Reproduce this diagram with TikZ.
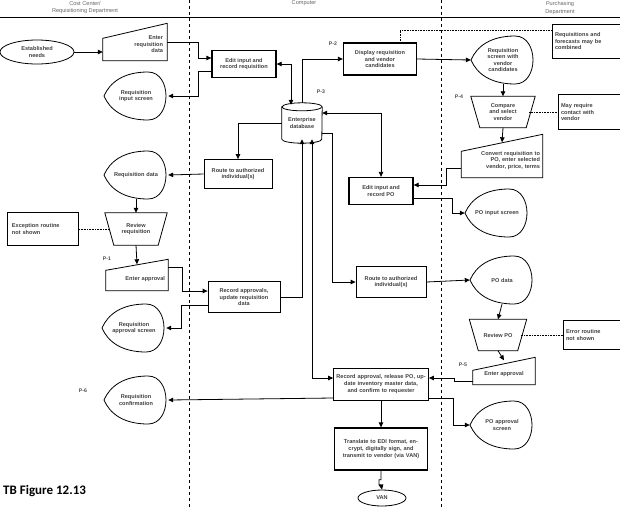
\documentclass[tikz,border=0pt]{standalone}
\usepackage{fontspec}
\setmainfont{Liberation Sans}
\newfontfamily\capfont{Carlito}
\usetikzlibrary{arrows.meta,positioning,calc,shapes.geometric}

\tikzset{
  txt/.style={font=\bfseries\fontsize{5.6}{6.6}\selectfont, text=black!75, inner sep=1pt, align=center},
  box/.style={txt, draw=black, line width=0.8pt},
  tbox/.style={box, line width=1.3pt},
  blank/.style={txt, draw=none},
  shp/.style={draw=black, line width=0.8pt},
  arr/.style={line width=0.8pt, -{Triangle[length=5pt,width=4.5pt]}},
  darr/.style={line width=0.8pt, {Triangle[length=5pt,width=4.5pt]}-{Triangle[length=5pt,width=4.5pt]}},
  dots/.style={densely dotted, line width=0.6pt},
  lane/.style={dashed, line width=0.8pt},
  head/.style={font=\fontsize{5.6}{6.6}\selectfont, text=black!60, inner sep=0pt},
  plab/.style={font=\bfseries\fontsize{5.2}{6}\selectfont, text=black!70, inner sep=0pt}
}

% display symbol
\newcommand\dispnode[3]{%
  \node[blank, minimum width=64pt, minimum height=48pt, text width=50pt] (#1) at (#2) {#3};
  \draw[shp, shift={(#1.center)}] (-32,0) .. controls (-26,-14) and (-12,-24) .. (12,-24)
    .. controls (36,-24) and (36,24) .. (12,24) .. controls (-12,24) and (-26,14) .. (-32,0) -- cycle;
}
% manual input symbol
\newcommand\inpnode[5]{%
  \node[blank, #3] (#1) at (#2) {#5};
  \draw[shp] (#1.south west) -- (#1.south east) -- (#1.north east) -- ([yshift=-#4]#1.north west) -- cycle;
}
% manual operation symbol
\newcommand\opnode[4]{%
  \node[blank, #3] (#1) at (#2) {#4};
  \draw[shp] (#1.north west) -- (#1.north east) -- ([xshift=-9pt]#1.south east) -- ([xshift=9pt]#1.south west) -- cycle;
}

\begin{document}
\begin{tikzpicture}[x=1pt,y=-1pt]
\useasboundingbox (0,0) rectangle (620,509);

% lanes
\draw[line width=0.7pt] (0,17) -- (620,17);
\draw[lane] (189,0) -- (189,509);
\draw[lane] (441,0) -- (441,509);
\node[head] (hcost) at (85,3) {Cost Center/};
\node[head] (hreq) at (85,11) {Requisitioning Department};
\node[head] (hcomp) at (304,3) {Computer};
\node[head] (hpur1) at (560,4) {Purchasing};
\node[head] (hpur2) at (560,12) {Department};

% cost center
\node[box, ellipse, minimum width=74pt, minimum height=24pt] (need) at (37,52) {Established\\needs};
\inpnode{enreq}{135,42}{minimum width=64pt, minimum height=37pt, align=right, text width=56pt}{15pt}{\\[2pt]Enter\\requisition\\data}
\dispnode{reqin}{136,96}{Requisition\\input screen}
\dispnode{reqd}{136,175}{Requisition data}
\opnode{revr}{136,229}{minimum width=62pt, minimum height=32pt}{Review\\requisition}
\node[box, minimum width=71pt, minimum height=33pt, align=left, text width=62pt] (exc) at (43,229) {Exception routine\\not shown};
\inpnode{enap1}{137,275}{minimum width=62pt, minimum height=31pt, align=right, text width=56pt}{11pt}{\\[6pt]Enter approval}
\dispnode{reqapp}{134,328}{Requisition\\approval screen}
\dispnode{reqconf}{136,400}{Requisition\\confirmation}

% computer
\node[tbox, minimum width=64pt, minimum height=27pt] (edreq) at (244,64) {Edit input and\\record requisition};
\node[blank, minimum width=40pt, minimum height=40pt] (db) at (302,123) {Enterprise\\database};
\draw[shp] ([yshift=-4pt]db.north west) -- ([yshift=4pt]db.south west) arc(180:360:20pt and 4pt)
  -- ([yshift=-4pt]db.north east) arc(0:180:20pt and 4pt) -- cycle;
\draw[shp] ([yshift=-4pt]db.north west) arc(180:360:20pt and 4pt);
\node[tbox, minimum width=73pt, minimum height=32pt] (disp) at (380,59) {Display requisition\\and vendor\\candidates};
\node[box, minimum width=68pt, minimum height=29pt] (rtl) at (238,174) {Route to authorized\\individual(s)};
\node[tbox, minimum width=64pt, minimum height=27pt] (edpo) at (381,191) {Edit input and\\record PO};
\node[box, minimum width=72pt, minimum height=31pt] (recap) at (244,297) {Record approvals,\\update requisition\\data};
\node[box, minimum width=70pt, minimum height=31pt] (rtr) at (391,282) {Route to authorized\\individual(s)};
\node[box, minimum width=95pt, minimum height=32pt, text width=90pt] (recpo) at (381,384) {Record approval, release PO, update inventory master data, and confirm to requester};
\node[tbox, minimum width=93pt, minimum height=42pt, text width=88pt] (trans) at (381,449) {Translate to EDI format, encrypt, digitally sign,  and transmit to vendor (via VAN)};
\node[box, ellipse, minimum width=48pt, minimum height=16pt] (van) at (382,498) {VAN};

% purchasing
\dispnode{rsvc}{503,60}{Requisition\\screen with\\vendor\\candidates}
\node[box, minimum width=68pt, minimum height=34pt, align=left, text width=62pt] (note1) at (586,41) {Requisitions and\\forecasts may be\\combined};
\opnode{cmp}{503,112}{minimum width=64pt, minimum height=31pt}{Compare\\and select\\vendor}
\node[box, minimum width=62pt, minimum height=35pt, align=left, text width=56pt] (note2) at (589,112) {May require\\contact with\\vendor};
\inpnode{conv}{502,156}{minimum width=81pt, minimum height=43pt, align=right, text width=76pt}{17pt}{\\[6pt]Convert requisition to\\PO, enter selected\\vendor, price, terms}
\dispnode{poin}{497,213}{PO input screen}
\dispnode{pod}{502,280}{PO data}
\opnode{revpo}{498,335}{minimum width=57pt, minimum height=31pt}{Review PO}
\node[box, minimum width=58pt, minimum height=29pt, align=left, text width=52pt] (err) at (592,335) {Error routine\\not shown};
\inpnode{enap2}{504,371}{minimum width=62pt, minimum height=27pt}{13pt}{\\[4pt]Enter approval}
\dispnode{poapp}{502,425}{PO approval\\screen}

% labels
\node[plab] (p1) at (107,259) {P-1};
\node[plab] (p2) at (333,44) {P-2};
\node[plab] (p3) at (321,92) {P-3};
\node[plab] (p4) at (459,97) {P-4};
\node[plab] (p5) at (463,365) {P-5};
\node[plab] (p6) at (83,391) {P-6};
\node[anchor=west, inner sep=0pt, font=\capfont\bfseries\fontsize{13}{15}\selectfont] (fig) at (3,491) {TB Figure 12.13};

% flows
\draw[arr] (need) -- (enreq.west |- need);
\draw[arr] (enreq.east) -- ++(31,0) |- ([yshift=6pt]edreq.west);
\draw[arr] ([yshift=-7pt]edreq.west) -- ++(-13,0) |- (reqin.east);
\draw[darr] (edreq.east) -| ([xshift=-11pt,yshift=-2pt]db.north);
\draw[arr] (db.north) |- (disp.west);
\draw[arr] (disp.east) -- (rsvc.west);
\draw[dots] ([xshift=20pt]disp.north) |- ([yshift=11pt]note1.west);
\draw[arr] (rsvc.south) -- (cmp.north);
\draw[dots] ([xshift=-6pt]cmp.east) -- (note2.west);
\draw[arr] (cmp.south) -- ([yshift=-8pt]conv.north);
\draw[arr] ([yshift=-12pt]conv.west) -- ++(-15,0) |- ([yshift=6pt]edpo.east);
\draw[arr] ([yshift=-7pt]edpo.east) -- ++(39,0) |- (poin.west);
\draw[darr] ([yshift=10pt]db.east) -| (edpo.north);
\draw[arr] (db.west) -| (rtl.north);
\draw[arr] (rtl.west) -- (reqd.east);
\draw[arr] (reqd.south) -- (revr.north);
\draw[dots] (exc.east) -- ([xshift=5pt]revr.west);
\draw[arr] (revr.south) -- ([yshift=-5pt]enap1.north);
\draw[arr] ([yshift=8pt]enap1.east) -- ++(14,0) |- ([yshift=6pt]recap.west);
\draw[arr] ([yshift=-8pt]recap.west) -- ++(-26,0) |- (reqapp.east);
\draw[arr] (recap.east) -| ([yshift=4pt]db.south);
\draw[darr] ([xshift=10pt,yshift=4pt]db.south) |- ([yshift=6pt]recpo.west);
\draw[arr] ([yshift=-10pt]db.east) -- ++(10,0) |- (rtr.west);
\draw[arr] (rtr.east) -- (pod.west);
\draw[arr] (pod.south) -- (revpo.north);
\draw[dots] ([xshift=-6pt]revpo.east) -- (err.west);
\draw[arr] (revpo.south) -- ([yshift=-3pt]enap2.north);
\draw[arr] ([yshift=-10pt]enap2.west) -- ++(-18,0) |- ([yshift=6pt]recpo.east);
\draw[arr] ([yshift=-14pt]recpo.east) -- ++(24,0) |- (poapp.west);
\draw[arr] ([yshift=-14pt]recpo.west) -- (reqconf.east);
\draw[arr] (recpo.south) -- (trans.north);
\draw[arr] (trans.south) -- ++(0,9) -- ++(-2,0) -- ++(0,5) -- ++(2,0) -- (van.north);
\end{tikzpicture}
\end{document}
